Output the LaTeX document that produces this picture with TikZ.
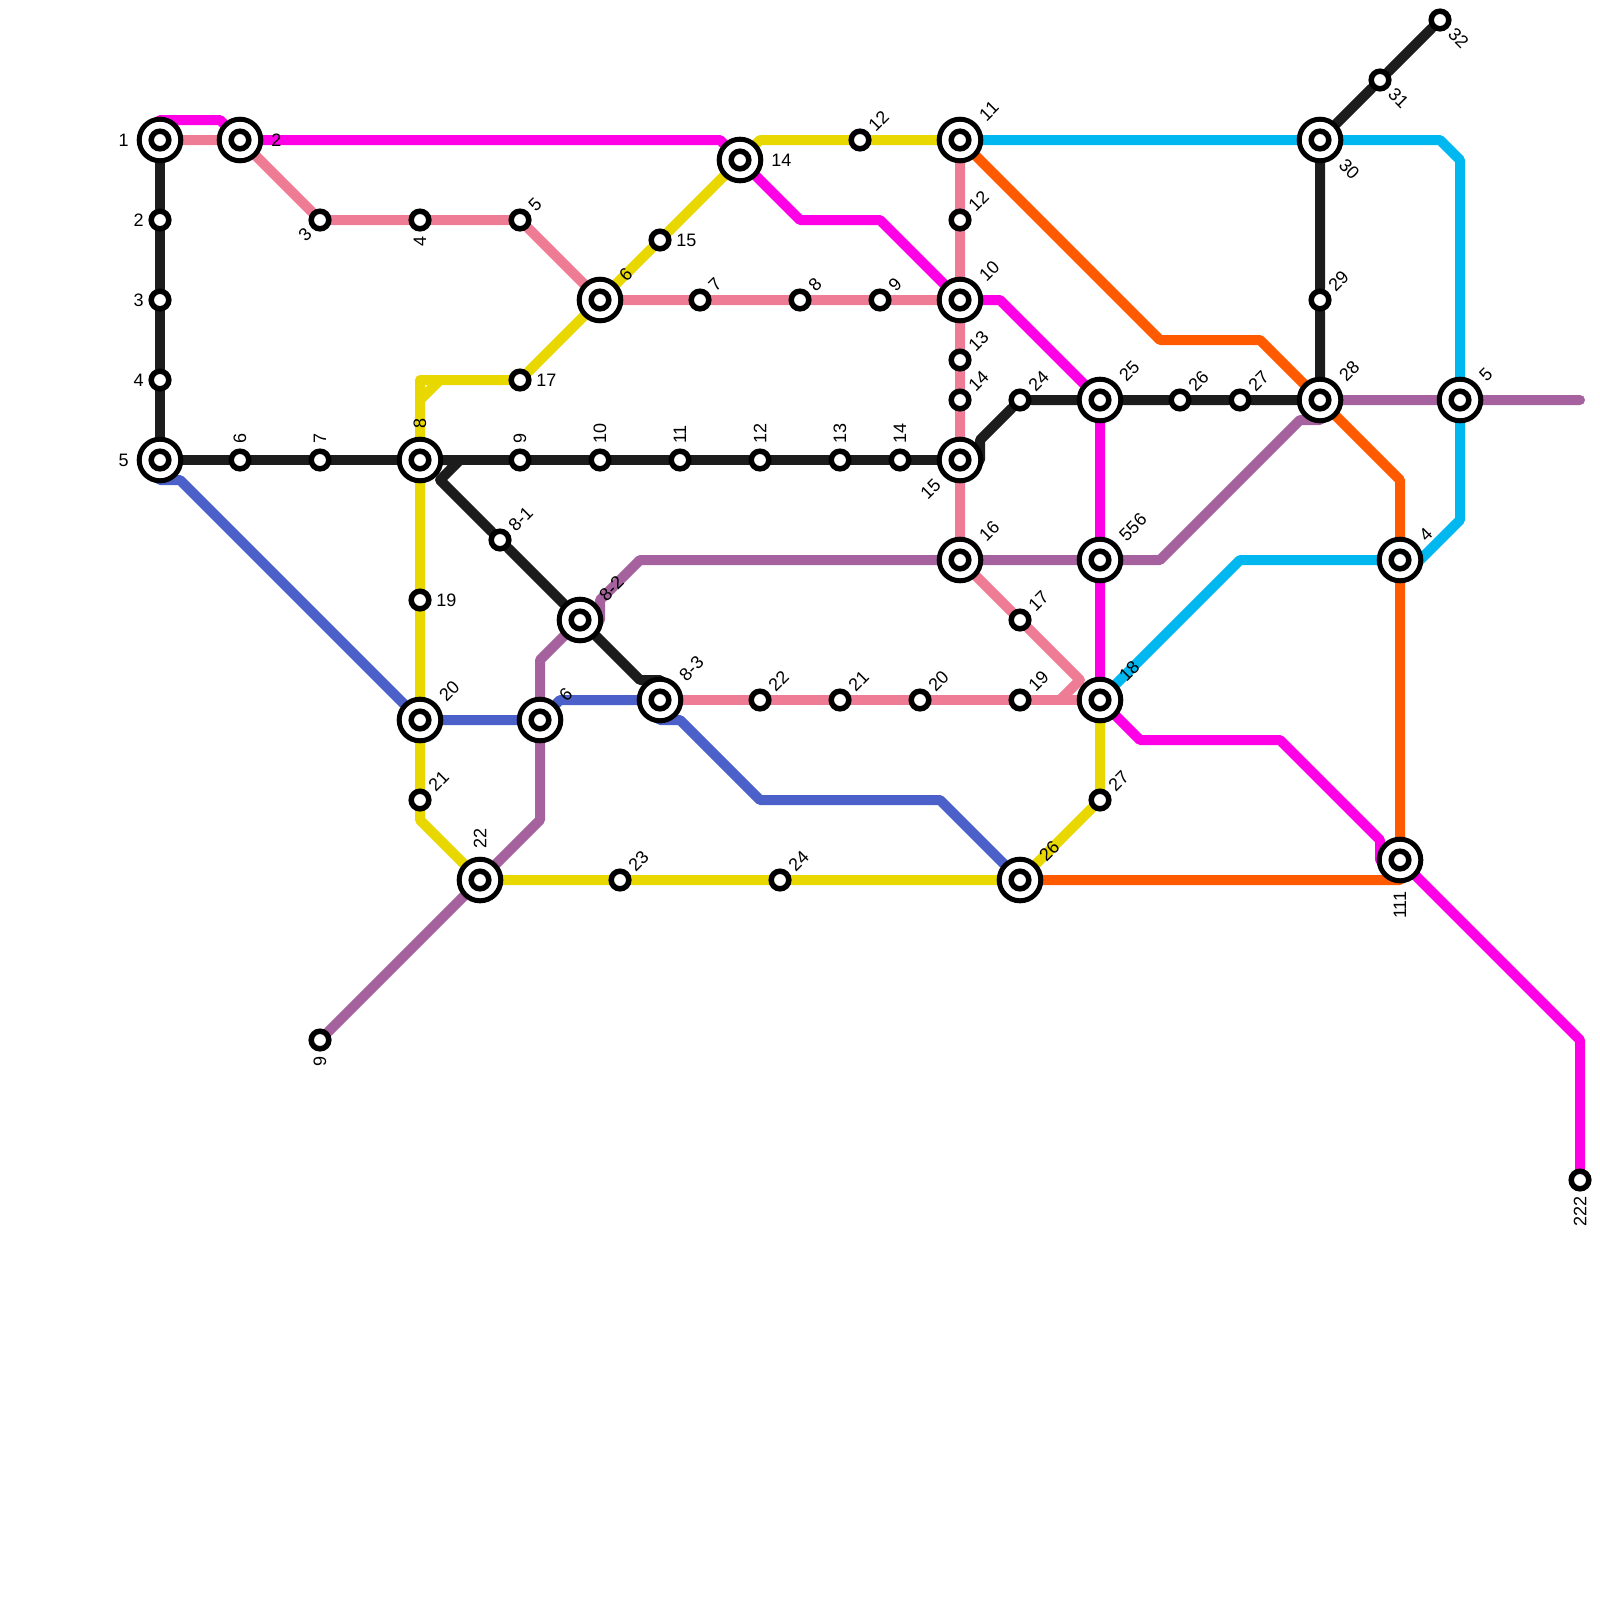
\documentclass[tikz,border=0pt]{standalone}
\usepackage{fontspec}
\setmainfont{Liberation Sans}
\usetikzlibrary{backgrounds,calc}
\definecolor{linepink}{HTML}{EE7C94}
\definecolor{lineyellow}{HTML}{E8D800}
\definecolor{linemagenta}{HTML}{FF00E6}
\definecolor{lineblue}{HTML}{4B60C8}
\definecolor{linepurple}{HTML}{A6629F}
\definecolor{lineblack}{HTML}{1C1C1C}
\definecolor{linecyan}{HTML}{00B7F0}
\definecolor{lineorange}{HTML}{FF5A00}
\tikzset{
    stop/.style={circle,draw=black,fill=white,line width=1.375mm,minimum size=4.4mm,inner sep=0pt},
    hub/.style={circle,draw=black,fill=white,line width=1.25mm,minimum size=10.4mm,inner sep=0pt},
    metro/.style={line width=2.5mm,line cap=round,line join=round},
    stoplabel/.style={inner sep=0pt,font=\fontsize{12.8}{14}\selectfont},
}
\newcommand{\stoptext}[4]{
    \pgfmathtruncatemacro{\flip}{#3>=180}
    \ifnum\flip=1
        \pgfmathtruncatemacro{\turn}{#3-180}
        \node[stoplabel,anchor=east,rotate=\turn] (#1t) at ($(#1.center)+(#3:#4)$) {#2};
    \else
        \node[stoplabel,anchor=west,rotate=#3] (#1t) at ($(#1.center)+(#3:#4)$) {#2};
    \fi
}
\begin{document}
\begin{tikzpicture}[x=5mm,y=-5mm]
    \useasboundingbox (0,0) rectangle (80,80);
    \foreach \n/\x/\y/\t/\a in {a1/8/7/1/180,p2/12/7/2/0,k5/8/23/5/180,k8/21/23/8/90,p6/30/15/6/45,y14/37/8/14/0,
        p11/48/7/11/45,p10/48/15/10/45,k15/48/23/15/225,p16/48/28/16/45,k25/55/20/25/45,m556/55/28/556/45,
        p18/55/35/18/45,k30/66/7/30/-45,k28/66/20/28/45,c5/73/20/5/45,c4/70/28/4/45,o111/70/43/111/270,
        y26/51/44/26/45,y22/24/44/22/90,y20/21/36/20/45,b6/27/36/6/45,k82/29/31/8-2/45,k83/33/35/8-3/45} {
        \node[hub] (\n) at (\x,\y) {};
        \node[stop] (\n i) at (\n) {};
        \stoptext{\n}{\t}{\a}{7.8mm}
    }
    \foreach \n/\x/\y/\t/\a in {k2/8/11/2/180,k3/8/15/3/180,k4/8/19/4/180,k6/12/23/6/90,k7/16/23/7/90,k9/26/23/9/90,
        k10/30/23/10/90,k11/34/23/11/90,k12/38/23/12/90,k13/42/23/13/90,k14/45/23/14/90,p3/16/11/3/225,p4/21/11/4/270,
        p5/26/11/5/45,y15/33/12/15/0,p7/35/15/7/45,p8/40/15/8/45,p9/44/15/9/45,y12/43/7/12/45,p12/48/11/12/45,
        p13/48/18/13/45,p14/48/20/14/45,k24/51/20/24/45,k26/59/20/26/45,k27/62/20/27/45,k29/66/15/29/45,k31/69/4/31/-45,
        k32/72/1/32/-45,y17/26/19/17/0,y19/21/30/19/0,y21/21/40/21/45,k81/25/27/8-1/45,y23/31/44/23/45,y24/39/44/24/45,
        v9/16/52/9/270,p22/38/35/22/45,p21/42/35/21/45,p20/46/35/20/45,p19/51/35/19/45,p17/51/31/17/45,y27/55/40/27/45,
        m222/79/59/222/270} {
        \node[stop] (\n) at (\x,\y) {};
        \stoptext{\n}{\t}{\a}{4mm}
    }
    \foreach \n/\x/\y in {ma/8/6,mb/11/6,mc/36/7,md/40/11,me/44/11,mf/50/15,mg/57/37,mh/64/37,mi/69/42,mj/69/43,mk/79/52,
        ba/8/24,bb/9/24,bc/28/35,bd/33/36,be/34/36,bf/38/40,bg/47/40,pa/54/34,pb/53/35,
        ya/21/41,yb/21/19,yc/21/20,yd/22/19,ye/38/7,
        ka/49/23,kb/49/22,kc/23/23,kd/22/24,ke/32/34,kf/33/34,
        va/27/41,vb/27/33,vc/30/31,vd/30/30,ve/32/28,vf/58/28,vg/65/21,vh/66/21,vi/79/20,
        ca/72/7,cb/73/8,cc/73/26,cd/71/28,ce/62/28,
        oa/58/17,ob/63/17,oc/70/24,od/70/44} {
        \coordinate (\n) at (\x,\y);
    }
    \begin{scope}[on background layer,every path/.append style={metro}]
        \draw[linemagenta] (a1.center) -- (ma) -- (mb) -- (p2) -- (mc) -- (y14) -- (md) -- (me) -- (p10) -- (mf) -- (k25) -- (m556) -- (p18) -- (mg) -- (mh) -- (mi) -- (mj) -- (o111.center) -- (mk) -- (m222);
        \draw[linepink] (a1) -- (p2) -- (p3) -- (p4) -- (p5) -- (p6) -- (p7) -- (p8) -- (p9) -- (p10);
        \draw[linepink] (p11) -- (p12) -- (p10) -- (p13) -- (p14) -- (k15) -- (p16) -- (p17) -- (pa) -- (pb);
        \draw[linepink] (k83) -- (p22) -- (p21) -- (p20) -- (p19) -- (p18);
        \draw[lineblue] (k5.center) -- (ba) -- (bb) -- (y20) -- (b6) -- (bc) -- (k83.center) -- (bd) -- (be) -- (bf) -- (bg) -- (y26);
        \draw[lineyellow] (y22) -- (ya) -- (y21) -- (y20) -- (y19) -- (k8) -- (yb) -- (y17) -- (p6) -- (y15) -- (y14) -- (ye) -- (y12) -- (p11);
        \draw[lineyellow] (yc) -- (yd);
        \draw[lineyellow] (y22) -- (y23) -- (y24) -- (y26) -- (y27) -- (p18);
        \draw[linepurple] (v9) -- (y22) -- (va) -- (b6) -- (vb) -- (k82.center) -- (vc) -- (vd) -- (ve) -- (p16) -- (m556) -- (vf) -- (vg) -- (vh) -- (k28.center) -- (c5) -- (vi);
        \draw[linecyan] (p11) -- (k30) -- (ca) -- (cb) -- (c5) -- (cc) -- (cd) -- (c4.center) -- (ce) -- (p18);
        \draw[lineorange] (p11) -- (oa) -- (ob) -- (k28) -- (oc) -- (c4) -- (o111.center) -- (od) -- (y26);
        \draw[lineblack] (a1) -- (k2) -- (k3) -- (k4) -- (k5) -- (k6) -- (k7) -- (k8) -- (k9) -- (k10) -- (k11) -- (k12) -- (k13) -- (k14) -- (k15);
        \draw[lineblack] (k15.center) -- (ka) -- (kb) -- (k24) -- (k25) -- (k26) -- (k27) -- (k28) -- (k29) -- (k30) -- (k31) -- (k32);
        \draw[lineblack] (k8) -- (kc) -- (kd) -- (k81) -- (k82) -- (ke) -- (kf) -- (k83.center);
    \end{scope}
\end{tikzpicture}
\end{document}
